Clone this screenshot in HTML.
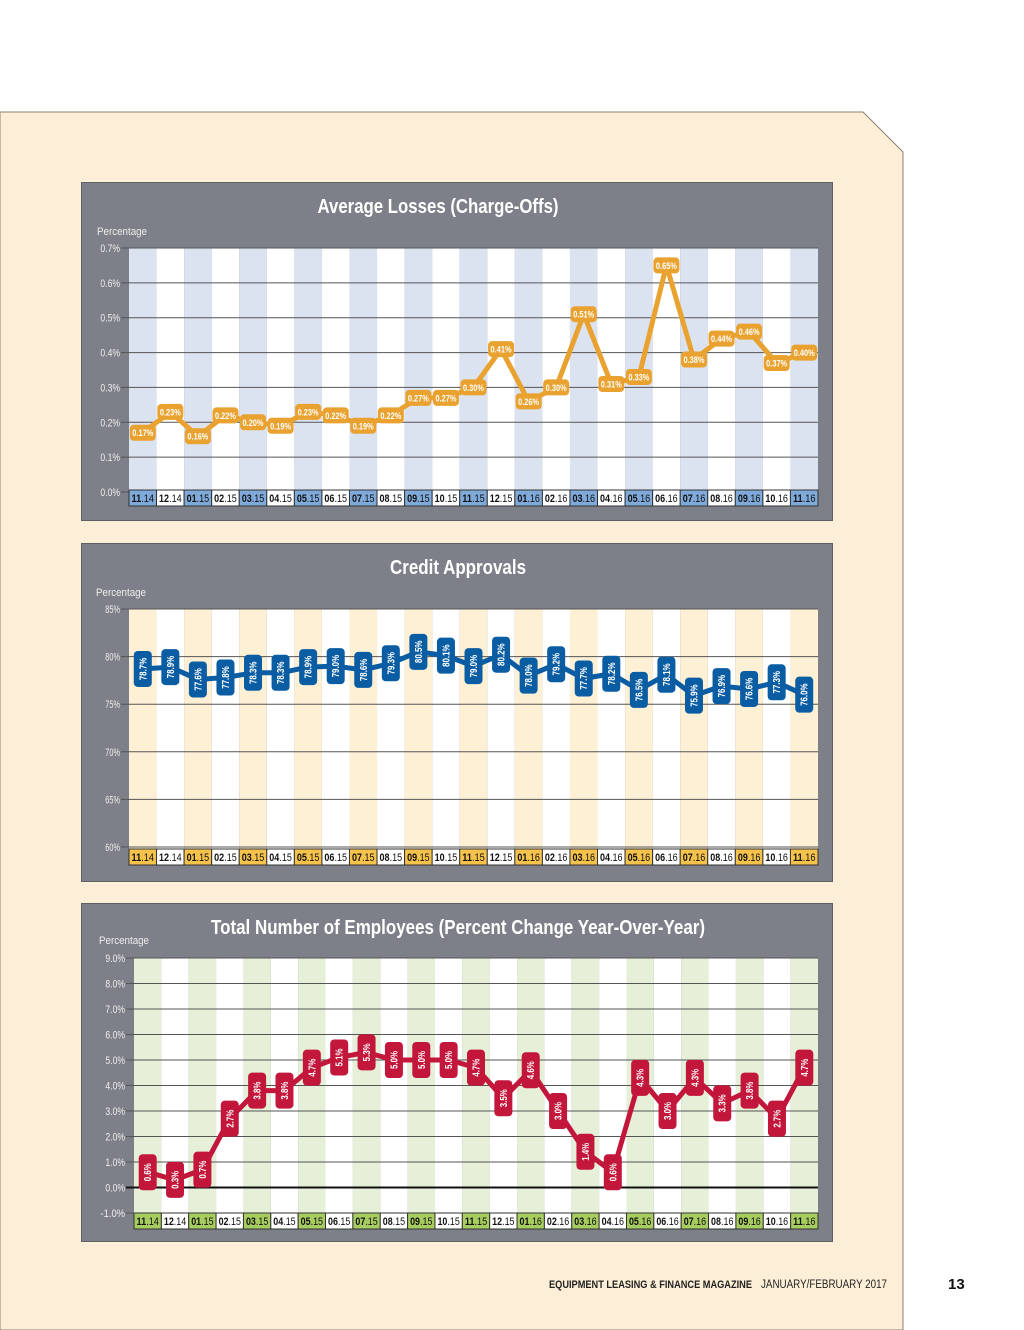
<!DOCTYPE html>
<html><head><meta charset="utf-8">
<style>
body{margin:0;width:1024px;height:1330px;position:relative;background:#fff;overflow:hidden;font-family:"Liberation Sans Narrow","Liberation Sans",sans-serif;}
#bg{position:absolute;left:0;top:0}
.panel{position:absolute;left:81px;width:752px;height:339px;background:#7d8089;border:1px solid #5e6068;box-sizing:border-box}
</style></head>
<body>
<svg id="bg" width="1024" height="1330">
<polygon points="0,112 863,112 903,152 903,1330 0,1330" fill="#fdefd7" stroke="#8a8070" stroke-width="1"/>
<text x="549" y="1288" font-size="11" font-weight="bold" fill="#222" textLength="203" lengthAdjust="spacingAndGlyphs" font-family="Liberation Sans, sans-serif">EQUIPMENT LEASING &amp; FINANCE MAGAZINE</text>
<text x="761" y="1288" font-size="11.5" fill="#222" textLength="126" lengthAdjust="spacingAndGlyphs" font-family="Liberation Sans, sans-serif">JANUARY/FEBRUARY 2017</text>
<text x="948" y="1289" font-size="15" font-weight="bold" fill="#111" font-family="Liberation Sans, sans-serif">13</text>
</svg>
<div class="panel" style="top:182px"><svg id="c1" width="752" height="339"></svg></div>
<div class="panel" style="top:543px"><svg id="c2" width="752" height="339"></svg></div>
<div class="panel" style="top:903px"><svg id="c3" width="752" height="340"></svg></div>
<script>
const months=["11.14","12.14","01.15","02.15","03.15","04.15","05.15","06.15","07.15","08.15","09.15","10.15","11.15","12.15","01.16","02.16","03.16","04.16","05.16","06.16","07.16","08.16","09.16","10.16","11.16"];
const lossValues=[0.17,0.23,0.16,0.22,0.20,0.19,0.23,0.22,0.19,0.22,0.27,0.27,0.30,0.41,0.26,0.30,0.51,0.31,0.33,0.65,0.38,0.44,0.46,0.37,0.40];
const lossTicks=[0,0.1,0.2,0.3,0.4,0.5,0.6,0.7];
const approvalValues=[78.7,78.9,77.6,77.8,78.3,78.3,78.9,79.0,78.6,79.3,80.5,80.1,79.0,80.2,78.0,79.2,77.7,78.2,76.5,78.1,75.9,76.9,76.6,77.3,76.0];
const approvalTicks=[60,65,70,75,80,85];
const employeeValues=[0.6,0.3,0.7,2.7,3.8,3.8,4.7,5.1,5.3,5.0,5.0,5.0,4.7,3.5,4.6,3.0,1.4,0.6,4.3,3.0,4.3,3.3,3.8,2.7,4.7];
const employeeTicks=[-1,0,1,2,3,4,5,6,7,8,9];
const NS="http://www.w3.org/2000/svg";
function mk(p,t,a){const e=document.createElementNS(NS,t);for(const k in a)e.setAttribute(k,a[k]);p.appendChild(e);return e;}
function chart(o){
 const s=document.getElementById(o.id);
 const n=months.length, cw=(o.r-o.l)/n;
 const x=i=>o.l+cw*(i+0.5);
 const y=v=>o.b-(v-o.min)/(o.max-o.min)*(o.b-o.t);
 let t=mk(s,'text',{x:o.tx-o.tw/2,y:o.ty,'font-size':20,'font-weight':'bold',fill:'#fff',textLength:o.tw,lengthAdjust:'spacingAndGlyphs'});t.textContent=o.title;
 
 
 t=mk(s,'text',{x:o.px,y:o.py,'font-size':11,fill:'#eee',textLength:50,lengthAdjust:'spacingAndGlyphs'});t.textContent='Percentage';
 
 
 for(let i=0;i<n;i++){const r=mk(s,'rect',{x:o.l+cw*i,y:o.t,width:cw,height:o.b2-o.t,fill:i%2?'#fff':o.stripe});
  
  }
 o.ticks.forEach(v=>{const yy=y(v);
  const ln=mk(s,'line',{x1:o.l-8,x2:o.r,y1:yy,y2:yy,stroke:v===0&&o.zero?'#111':'#555','stroke-width':v===0&&o.zero?2:1});
  
  
  const lab=o.fmt(v);
  const tt=mk(s,'text',{x:o.l-9,y:yy+4,'font-size':11,fill:'#eee','text-anchor':'end',textLength:lab.length*4.9,lengthAdjust:'spacingAndGlyphs'});tt.textContent=lab;
  
  });
 months.forEach((m,i)=>{const bx=o.l+cw*i;
  const r=mk(s,'rect',{x:bx,y:o.b2,width:cw,height:16,fill:i%2?'#fff':o.box,stroke:'#333','stroke-width':1});
  
  
  const tt=mk(s,'text',{x:bx+2.5,y:o.b2+12,'font-size':11,fill:'#111',textLength:cw-5,lengthAdjust:'spacingAndGlyphs'});
  const p=m.split('.');const a=mk(tt,'tspan',{'font-weight':'bold'});a.textContent=p[0];const b=mk(tt,'tspan',{});b.textContent='.'+p[1];
  
  });
 const pts=o.vals.map((v,i)=>x(i)+','+y(v)).join(' ');
 const pl=mk(s,'polyline',{points:pts,fill:'none',stroke:o.color,'stroke-width':5,'stroke-linejoin':'round'});
 
 
 o.vals.forEach((v,i)=>{const cx=x(i),cy=y(v);const lab=o.lfmt(v);
  const g=mk(s,'g',{});
  
  
  if(o.vert){mk(g,'rect',{x:cx-9,y:cy-18,width:18,height:36,rx:4,fill:o.color});
   const tt=mk(g,'text',{x:0,y:0,'font-size':10,'font-weight':'bold',fill:'#fff','text-anchor':'middle',textLength:lab.length*4.5,lengthAdjust:'spacingAndGlyphs',transform:`translate(${cx+3.5},${cy}) rotate(-90)`});tt.textContent=lab;}
  else{mk(g,'rect',{x:cx-13,y:cy-8,width:26,height:16,rx:4,fill:o.color});
   const tt=mk(g,'text',{x:cx,y:cy+3.5,'font-size':9.5,'font-weight':'bold',fill:'#fff','text-anchor':'middle',textLength:21,lengthAdjust:'spacingAndGlyphs'});tt.textContent=lab;}});
}
chart({id:'c1',title:'Average Losses (Charge-Offs)',tw:241,tx:356,ty:30,px:15,py:52,l:47,r:736,t:65,b:309,b2:307,min:0,max:0.7,ticks:lossTicks,vals:lossValues,stripe:'#dce3f0',box:'#7ea9d9',color:'#e9a22f',fmt:v=>v.toFixed(1)+'%',lfmt:v=>v.toFixed(2)+'%',vert:false});
chart({id:'c2',title:'Credit Approvals',tw:136,tx:376,ty:30,px:14,py:52,l:47,r:736,t:65,b:303,b2:305,min:60,max:85,ticks:approvalTicks,vals:approvalValues,stripe:'#fdf0d4',box:'#f5c24c',color:'#0a5ca3',fmt:v=>v+'%',lfmt:v=>v.toFixed(1)+'%',vert:true});
chart({id:'c3',title:'Total Number of Employees (Percent Change Year-Over-Year)',tw:494,tx:376,ty:30,px:17,py:40,l:52,r:736,t:54,b:309,b2:309,min:-1,max:9,ticks:employeeTicks,vals:employeeValues,stripe:'#e6efd8',box:'#a7cc5f',color:'#c3163b',fmt:v=>v.toFixed(1)+'%',lfmt:v=>v.toFixed(1)+'%',vert:true,zero:true});
</script>
</body></html>
